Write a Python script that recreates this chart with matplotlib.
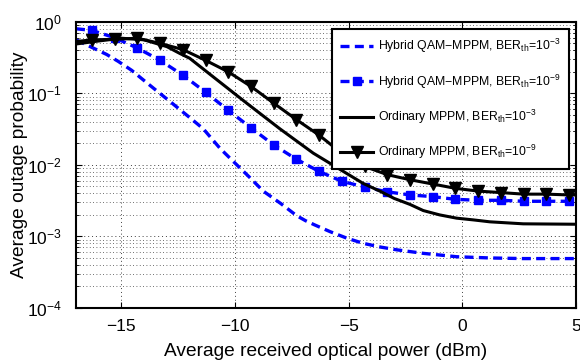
import numpy as np
import matplotlib.pyplot as plt
from matplotlib.ticker import LogLocator, NullFormatter

plt.rcParams['font.family'] = ['Liberation Sans', 'DejaVu Sans']
plt.rcParams['mathtext.fontset'] = 'custom'
plt.rcParams['mathtext.rm'] = 'Liberation Sans'
plt.rcParams['mathtext.it'] = 'Liberation Sans'

# -------------------------------------------
# Data
# -------------------------------------------

# Hybrid QAM-MPPM, BER_th = 1e-3 (no markers)
x_h3 = [-17.0, -16.24, -15.65, -15.14, -14.55, -14.1, -13.5, -12.75, -12.0, -11.4,
        -10.66, -10.08, -9.4, -8.76, -8.0, -7.29, -6.9, -6.5, -5.83, -5.1, -4.36,
        -3.6, -2.89, -1.72, -0.25, 1.21, 2.68, 5.0]
hybrid_1e3 = [0.56, 0.43, 0.35, 0.28, 0.21, 0.16, 0.112, 0.072, 0.046, 0.032,
              0.017, 0.0112, 0.0069, 0.0043, 0.0029, 0.00195, 0.00166, 0.00145, 0.00117,
              0.00095, 0.00080, 0.00071, 0.00065, 0.00058, 0.00052, 0.00050, 0.00049,
              0.00049]

# Ordinary MPPM, BER_th = 1e-3 (no markers)
x_o3 = [-17.0, -16.0, -15.0, -14.0, -13.0, -12.42, -12.0, -10.96, -9.49, -8.03,
        -6.56, -5.09, -4.36, -3.63, -3.0, -2.3, -1.72, -1.0, -0.25, 0.5, 1.21,
        2.68, 5.0]
ordinary_1e3 = [0.49, 0.54, 0.59, 0.56, 0.45, 0.36, 0.31, 0.17, 0.073, 0.032,
                0.0146, 0.0076, 0.0055, 0.0043, 0.0034, 0.0028, 0.0023, 0.0020,
                0.0018, 0.0017, 0.0016, 0.0015, 0.00148]

# curves drawn with markers (first point is the left edge, no marker there)
x_mark = [-17.0, -16.3, -15.3, -14.3, -13.3, -12.3, -11.3, -10.3, -9.3, -8.3, -7.3,
          -6.3, -5.3, -4.3, -3.3, -2.3, -1.3, -0.3, 0.7, 1.7, 2.7, 3.7, 4.7, 5.0]

hybrid_1e9 = [0.80, 0.76, 0.60, 0.43, 0.29, 0.18, 0.104, 0.058, 0.033, 0.019, 0.012,
              0.0081, 0.0059, 0.0049, 0.0042, 0.0038, 0.0036, 0.0033, 0.0032, 0.0032,
              0.0031, 0.0031, 0.0031, 0.0031]

ordinary_1e9 = [0.53, 0.56, 0.57, 0.59, 0.50, 0.41, 0.29, 0.20, 0.125, 0.073, 0.043,
                0.026, 0.0145, 0.0095, 0.0073, 0.0062, 0.0054, 0.0047, 0.0043, 0.0041,
                0.0039, 0.0039, 0.0038, 0.0038]

labels = [r'Hybrid QAM$-$MPPM, BER$_{\mathrm{th}}$=10$^{-3}$',
          r'Hybrid QAM$-$MPPM, BER$_{\mathrm{th}}$=10$^{-9}$',
          r'Ordinary MPPM, BER$_{\mathrm{th}}$=10$^{-3}$',
          r'Ordinary MPPM, BER$_{\mathrm{th}}$=10$^{-9}$']

# -------------------------------------------
# Plot
# -------------------------------------------

fig = plt.figure(figsize=(5.8, 3.64), dpi=100)
ax = fig.add_axes([0.131, 0.154, 0.862, 0.786])

marks = list(range(1, len(x_mark) - 1))

ax.semilogy(x_h3, hybrid_1e3, '--', color='blue', linewidth=2.4,
            dashes=(2.7, 1.6), label=labels[0])
ax.semilogy(x_mark, hybrid_1e9, '--s', color='blue', linewidth=2.4,
            dashes=(2.7, 1.6), markersize=6, markevery=marks, label=labels[1])
ax.semilogy(x_o3, ordinary_1e3, '-', color='black', linewidth=2.2, label=labels[2])
ax.semilogy(x_mark, ordinary_1e9, '-v', color='black', linewidth=2.2,
            markersize=8, markevery=marks, label=labels[3])

ax.set_xlim(-17, 5)
ax.set_ylim(1e-4, 1)
ax.set_xticks([-15, -10, -5, 0, 5])
ax.set_xticklabels(['\u221215', '\u221210', '\u22125', '0', '5'])
ax.yaxis.set_major_locator(LogLocator(base=10, numticks=10))
ax.yaxis.set_minor_locator(LogLocator(base=10, subs=np.arange(2, 10), numticks=10))
ax.yaxis.set_minor_formatter(NullFormatter())

ax.tick_params(which='both', direction='in', top=True, right=True, labelsize=12.5)
ax.tick_params(which='major', length=4)
ax.tick_params(which='minor', length=2)
ax.tick_params(axis='x', which='major', pad=8)
ax.tick_params(axis='y', which='major', pad=10)
ax.grid(True, which='major', linestyle=(0, (1, 3)), color='0.25', linewidth=0.7)
ax.grid(True, which='minor', axis='y', linestyle=(0, (1, 3)), color='0.25', linewidth=0.6)
for sp in ax.spines.values():
    sp.set_linewidth(1.5)

ax.set_xlabel('Average received optical power (dBm)', fontsize=13.8)
ax.set_ylabel('Average outage probability', fontsize=13.8)
ax.xaxis.set_label_coords(0.5, -0.122)
ax.yaxis.set_label_coords(-0.096, 0.5)

leg = ax.legend(loc='upper right', numpoints=1, handlelength=2.7, fontsize=8.8,
                labelspacing=1.4, borderaxespad=0.6, fancybox=False,
                framealpha=1, edgecolor='black', borderpad=0.65, handletextpad=0.4)
leg.get_frame().set_linewidth(1.5)

fig.savefig('out.png', dpi=100)
